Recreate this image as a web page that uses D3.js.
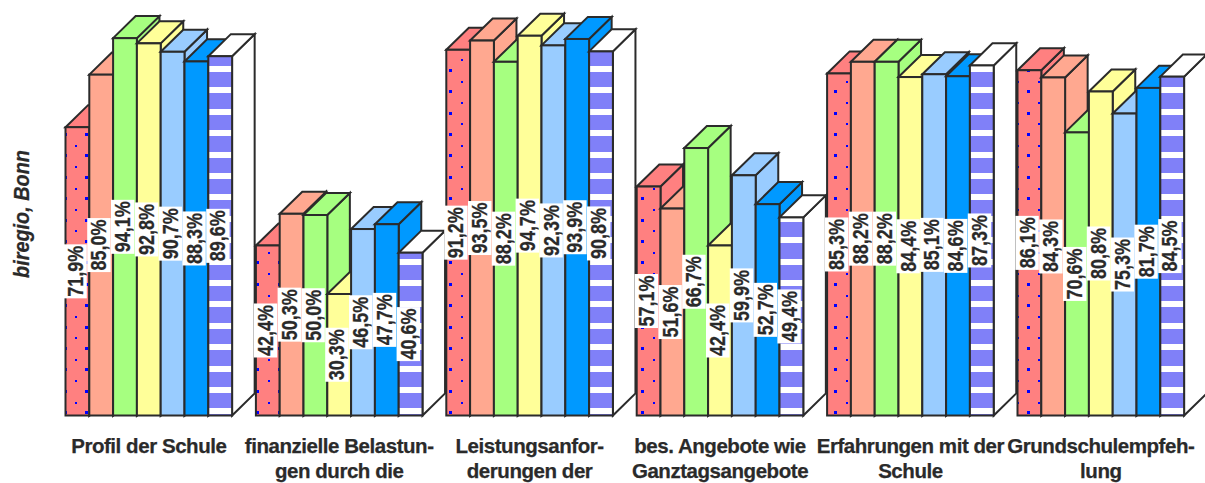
<!DOCTYPE html>
<html><head><meta charset="utf-8">
<style>html,body{margin:0;padding:0;background:#fff;overflow:hidden}svg{display:block}
text{font-family:"Liberation Sans",Arial,sans-serif;font-weight:bold;fill:#2a2a2a;stroke:#2a2a2a;stroke-width:0.25}</style>
<script src="https://cdn.jsdelivr.net/npm/d3@7/dist/d3.min.js"></script>
</head><body><svg id="c" width="1205" height="483"></svg>
<script>
const categories=["Profil der Schule","finanzielle Belastun-|gen durch die","Leistungsanfor-|derungen der","bes. Angebote wie|Ganztagsangebote","Erfahrungen mit der|Schule","Grundschulempfeh-|lung"];
const seriesNames=["s1","s2","s3","s4","s5","s6","s7"];
const s1=[71.9,42.4,91.2,57.1,85.3,86.1];
const s2=[85.0,50.3,93.5,51.6,88.2,84.3];
const s3=[94.1,50.0,88.2,66.7,88.2,70.6];
const s4=[92.8,30.3,94.7,42.4,84.4,80.8];
const s5=[90.7,46.5,92.3,59.9,85.1,75.3];
const s6=[88.3,47.7,93.9,52.7,84.6,81.7];
const s7=[89.6,40.6,90.8,49.4,87.3,84.5];
const seriesValues=[s1,s2,s3,s4,s5,s6,s7];
const frontFill=["url(#dots)","#FFA890","#A6FF80","#FFFF99","#99CCFF","#0099FF","url(#stripes)"];
const sideFill=["#FF8080","#FFA890","#A6FF80","#FFFF99","#99CCFF","#0099FF","#FFFFFF"];
const stroke="#2b2b2b";
const svg=d3.select("#c");
const defs=svg.append("defs");
const P=21.4,T=107,N=5;
const dots=defs.append("pattern").attr("id","dots").attr("patternUnits","userSpaceOnUse").attr("width",T).attr("height",T).attr("patternTransform","translate(85,133)");
dots.append("rect").attr("width",T).attr("height",T).attr("fill","#FF8080");
d3.range(N).forEach(a=>d3.range(N).forEach(b=>{
  dots.append("rect").attr("x",Math.round(a*P)).attr("y",Math.round(b*P)).attr("width",3).attr("height",3).attr("fill","#0000FF");
  dots.append("rect").attr("x",Math.round((a+.5)*P)+1).attr("y",Math.round((b+.5)*P)+1).attr("width",2).attr("height",2).attr("fill","#0000FF");
}));
const st=defs.append("pattern").attr("id","stripes").attr("patternUnits","userSpaceOnUse").attr("width",T).attr("height",T).attr("patternTransform","translate(0,66)");
st.append("rect").attr("width",T).attr("height",T).attr("fill","#8080F8");
d3.range(N).forEach(b=>st.append("rect").attr("y",Math.round(b*P)).attr("width",T).attr("height",6).attr("fill","#fff"));

const x0=d3.scaleBand().domain(d3.range(categories.length)).range([65.5,65.5+190.4*6]);
const x1=d3.scaleBand().domain(d3.range(seriesNames.length)).range([0,166.6]);
const y=d3.scaleLinear().domain([0,100]).range([415.5,14.5]);
const bw=x1.bandwidth();
const dx=y(0)-y(5.5)+0.5,dy=y(0)-y(5.5);
const marks=svg.append("g").attr("stroke",stroke).attr("stroke-width",2).attr("stroke-linejoin","miter");
const labels=[];
categories.forEach((c,g)=>{
  seriesNames.forEach((n,i)=>{
    const v=seriesValues[i][g],l=x0(g)+x1(i),r=l+bw,t=y(v),b=y(0);
    const bar=marks.append("g");
    bar.append("polygon").attr("fill",sideFill[i]).attr("points",[[r,t],[r+dx,t-dy],[r+dx,b-dy],[r,b]].join(" "));
    bar.append("polygon").attr("fill",sideFill[i]).attr("points",[[l,t],[l+dx,t-dy],[r+dx,t-dy],[r,t]].join(" "));
    bar.append("rect").attr("x",l).attr("y",t).attr("width",bw).attr("height",b-t).attr("fill",frontFill[i]);
    labels.push({v,cx:l+bw/2-2.3,cy:(t+b)/2});
  });
});
const lg=svg.append("g");
labels.forEach(d=>{
  const s=d.v.toFixed(1).replace(".",",")+"%";
  const g=lg.append("g").attr("transform",`translate(${d.cx},${d.cy}) rotate(-90)`);
  g.append("rect").attr("x",-27).attr("y",-11.7).attr("width",54).attr("height",23.4).attr("fill","#fff");
  g.append("text").attr("text-anchor","middle").attr("y",7.5).attr("font-size",21.5).attr("textLength",51).attr("lengthAdjust","spacingAndGlyphs").text(s);
});
categories.forEach((c,g)=>{
  c.split("|").forEach((ln,k)=>{
    svg.append("text").attr("x",x0(g)+83.3).attr("y",453+k*25).attr("text-anchor","middle").attr("font-size",20.5).attr("letter-spacing",-0.45).text(ln);
  });
});
svg.append("text").attr("transform","translate(29,214) rotate(-90)").attr("text-anchor","middle").attr("font-size",22).attr("font-style","italic").attr("textLength",128).attr("lengthAdjust","spacingAndGlyphs").text("biregio, Bonn");
</script></body></html>
